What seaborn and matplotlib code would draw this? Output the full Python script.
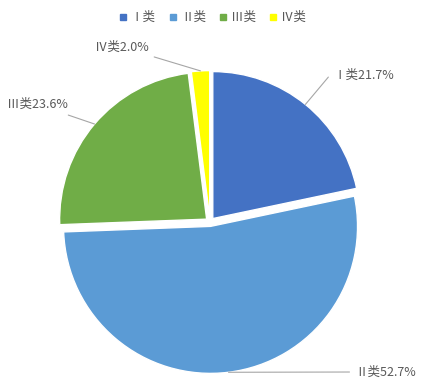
import numpy as np
import matplotlib.pyplot as plt
import seaborn as sns
from matplotlib.lines import Line2D

sns.set_theme(style="white")
plt.rcParams['font.family'] = ['Noto Sans CJK SC', 'DejaVu Sans']

# data
categories = ['Ⅰ类', 'Ⅱ类', 'Ⅲ类', 'Ⅳ类']
shares = [21.7, 52.7, 23.6, 2.0]
colors = ['#4472C4', '#5B9BD5', '#70AD47', '#FFFF00']

# label placement (data units, pie radius = 1)
label_xy = [(0.84, 1.0), (0.99, -1.02), (-0.97, 0.80), (-0.42, 1.19)]
label_ha = ['left', 'left', 'right', 'right']
label_conn = ['angle', 'arc3', 'arc3', 'arc3']

fig = plt.figure(figsize=(4.24, 3.92), dpi=100)
px = 147.0  # pixels per data unit
cx, cy = 210.0, 392 - 222.0
half = 1.45
ax = fig.add_axes([(cx - half * px) / 424, (cy - half * px) / 392,
                   2 * half * px / 424, 2 * half * px / 392])

wedges, _ = ax.pie(shares, colors=colors, startangle=90, counterclock=False,
                   explode=[0.03] * 4, radius=1.0,
                   wedgeprops=dict(edgecolor='white', linewidth=1))
ax.set_xlim(-half, half)
ax.set_ylim(-half, half)
ax.set_aspect('equal')
ax.axis('off')

txt_color = '#595959'
for w, cat, val, xy, ha, conn in zip(wedges, categories, shares, label_xy,
                                     label_ha, label_conn):
    ang = np.deg2rad((w.theta1 + w.theta2) / 2)
    cxw, cyw = w.center
    p = (cxw + w.r * np.cos(ang), cyw + w.r * np.sin(ang))
    if conn == 'angle':
        cs = 'angle,angleA=0,angleB=%d' % (np.rad2deg(ang) % 180)
    else:
        cs = 'arc3'
    ax.annotate(f'{cat}{val:.1f}%', xy=p, xytext=xy, ha=ha, va='center',
                fontsize=9, color=txt_color,
                arrowprops=dict(arrowstyle='-', color='#A6A6A6', lw=0.8,
                                shrinkA=2, shrinkB=0, connectionstyle=cs))

handles = [Line2D([0], [0], marker='s', linestyle='', markersize=4,
                  markerfacecolor=c, markeredgecolor=c) for c in colors]
fig.legend(handles, categories, loc='upper center', bbox_to_anchor=(0.5, 1.0),
           ncol=4, frameon=False, fontsize=9, labelcolor=txt_color,
           handletextpad=0.2, columnspacing=1.0, handlelength=0.8)

fig.savefig('out.png', dpi=100)
